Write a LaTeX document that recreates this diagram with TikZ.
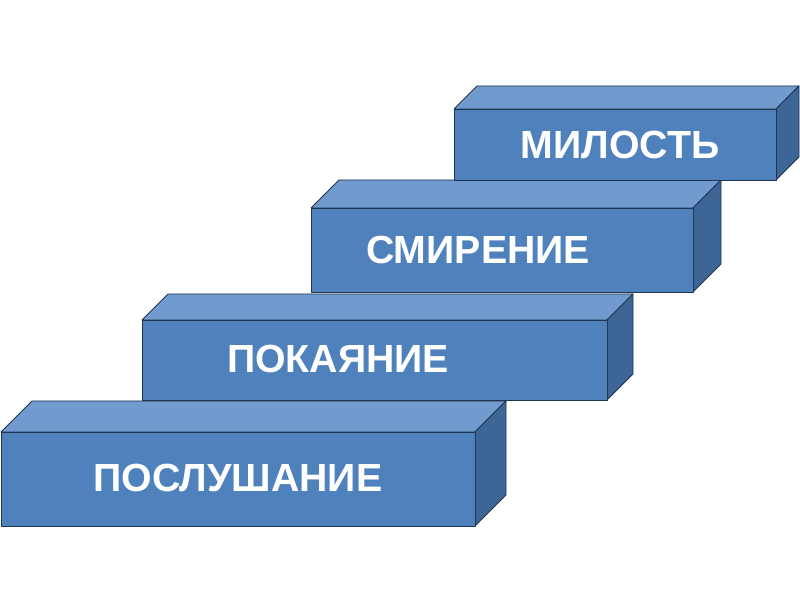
\documentclass[tikz,border=0pt]{standalone}
\usepackage{fontspec}
\setmainfont{Liberation Sans}
\usetikzlibrary{positioning}

\definecolor{boxfront}{HTML}{4F81BD}
\definecolor{boxtop}{HTML}{719BCE}
\definecolor{boxside}{HTML}{3D6596}
\definecolor{boxedge}{HTML}{1F3550}

% one step of the stair: front top-left (#1,#2), front bottom-right (#3,#4), depth #5
\newcommand{\stepblock}[5]{%
  \filldraw[topface] (#1,#2) -- (#1+#5,#2-#5) -- (#3+#5,#2-#5) -- (#3,#2) -- cycle;
  \filldraw[sideface] (#3,#2) -- (#3+#5,#2-#5) -- (#3+#5,#4-#5) -- (#3,#4) -- cycle;
  \filldraw[frontface] (#1,#2) rectangle (#3,#4);
}

\begin{document}
\begin{tikzpicture}[
    x=0.03cm,y=-0.03cm,
    face/.style={draw=boxedge,line width=0.7pt,line join=round},
    frontface/.style={face,fill=boxfront},
    topface/.style={face,fill=boxtop},
    sideface/.style={face,fill=boxside},
    steptext/.style={text=white,font=\fontsize{33.5}{38}\selectfont\bfseries,inner sep=0pt}
]
    \useasboundingbox (0,0) rectangle (800,600);

    \stepblock{1}{432}{475}{526}{31}
    \stepblock{142}{320}{607}{400}{26}
    \stepblock{311}{208}{693}{292}{28}
    \stepblock{454}{109}{776}{180}{23}

    \node[steptext] (obed) at (238,478) {ПОСЛУШАНИЕ};
    \node[steptext] (repent) at (338,359) {ПОКАЯНИЕ};
    \node[steptext] (humble) at (478,250) {СМИРЕНИЕ};
    \node[steptext] (grace) at (620,145) {МИЛОСТЬ};
\end{tikzpicture}
\end{document}
